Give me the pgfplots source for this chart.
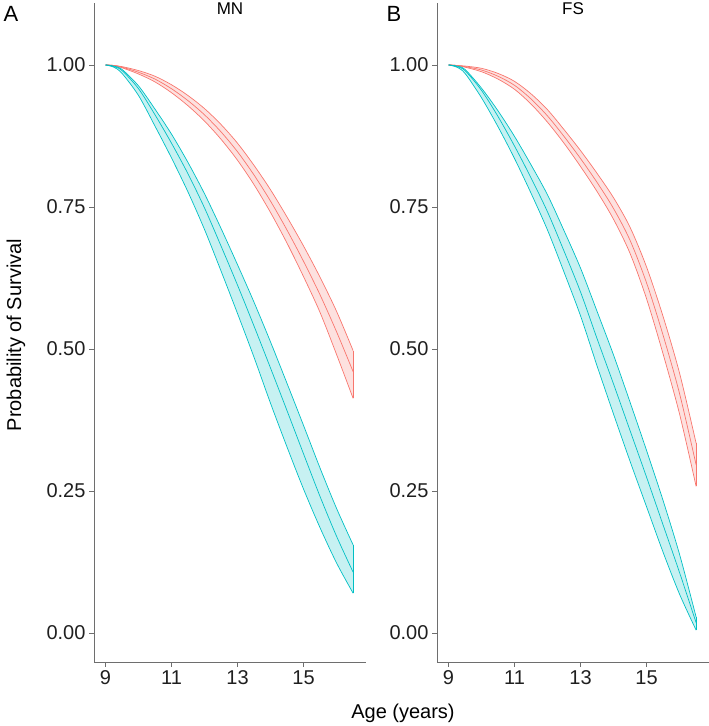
\documentclass[border=0pt]{standalone}
\usepackage{pgfplots}
\usepackage{pgfplotstable}
\pgfplotsset{compat=1.18}
\usepgfplotslibrary{fillbetween}
\usepackage{fontspec}
\setmainfont{Liberation Sans}
\definecolor{rd}{HTML}{F8766D}
\definecolor{tl}{HTML}{00BFC4}
\definecolor{axgray}{HTML}{6E6E6E}

% Panel A (MN)
\pgfplotstableread{
x     rlo   rmid  rhi   tlo   tmid  thi
9     1     1     1     1     1     1
9.25  0.999 0.999 0.999 0.996 0.997 0.998
9.5   0.995 0.996 0.997 0.985 0.990 0.992
10    0.984 0.987 0.990 0.946 0.958 0.963
10.5  0.970 0.975 0.980 0.892 0.912 0.922
11    0.951 0.958 0.965 0.836 0.862 0.878
11.5  0.928 0.937 0.946 0.776 0.808 0.828
12    0.901 0.912 0.923 0.710 0.748 0.773
12.5  0.869 0.882 0.895 0.637 0.681 0.712
13    0.832 0.847 0.862 0.562 0.612 0.648
13.5  0.789 0.806 0.823 0.485 0.540 0.582
14    0.740 0.760 0.780 0.404 0.466 0.512
14.5  0.686 0.709 0.732 0.327 0.391 0.439
15    0.627 0.654 0.681 0.253 0.315 0.365
15.5  0.564 0.595 0.626 0.185 0.240 0.290
16    0.490 0.530 0.566 0.123 0.170 0.219
16.5  0.413 0.460 0.497 0.070 0.107 0.155
}\dataA

% Panel B (FS)
\pgfplotstableread{
x     rlo   rmid  rhi   tlo   tmid  thi
9     1     1     1     1     1     1
9.25  0.999 0.999 0.999 0.996 0.997 0.998
9.5   0.996 0.997 0.998 0.985 0.990 0.992
10    0.988 0.991 0.994 0.942 0.955 0.959
10.5  0.975 0.980 0.985 0.891 0.909 0.919
11    0.957 0.964 0.971 0.835 0.857 0.874
11.5  0.931 0.940 0.949 0.774 0.801 0.824
12    0.899 0.910 0.921 0.709 0.741 0.771
12.5  0.862 0.874 0.886 0.635 0.672 0.708
13    0.821 0.835 0.849 0.558 0.600 0.642
13.5  0.777 0.793 0.809 0.470 0.518 0.566
14    0.728 0.747 0.766 0.385 0.438 0.489
14.5  0.668 0.691 0.714 0.302 0.356 0.406
15    0.588 0.616 0.644 0.222 0.274 0.321
15.5  0.491 0.524 0.557 0.142 0.190 0.233
16    0.385 0.421 0.457 0.068 0.106 0.138
16.5  0.258 0.296 0.334 0.005 0.018 0.028
}\dataB

\pgfplotsset{
  panel/.style={
    scale only axis, width=272pt, height=659pt,
    xmin=8.65, xmax=16.89, ymin=-0.0511, ymax=1.109,
    axis x line*=bottom, axis y line*=left,
    axis line style={axgray, line width=0.8pt},
    tick style={axgray, line width=0.8pt},
    tick align=outside, major tick length=5pt,
    xtick={9,11,13,15}, ytick={0,0.25,0.5,0.75,1},
    yticklabel style={/pgf/number format/fixed, /pgf/number format/fixed zerofill, /pgf/number format/precision=2},
    /pgf/number format/assume math mode=true,
    tick label style={font=\fontsize{20}{24}\selectfont, text=black!88},
  },
  bandline/.style={line width=0.7pt, smooth},
}

\begin{document}
\begin{tikzpicture}

\begin{axis}[panel, at={(94pt,64pt)}, anchor=south west]
  \addplot[bandline, rd, name path=rAhi] table[x=x, y=rhi] {\dataA};
  \addplot[bandline, rd, name path=rAlo] table[x=x, y=rlo] {\dataA};
  \addplot[fill=rd, fill opacity=0.22, draw=none] fill between[of=rAhi and rAlo];
  \addplot[bandline, rd] table[x=x, y=rmid] {\dataA};
  \addplot[line width=0.7pt, rd] coordinates {(16.5,0.413) (16.5,0.497)};
  \addplot[bandline, tl, name path=tAhi] table[x=x, y=thi] {\dataA};
  \addplot[bandline, tl, name path=tAlo] table[x=x, y=tlo] {\dataA};
  \addplot[fill=tl, fill opacity=0.22, draw=none] fill between[of=tAhi and tAlo];
  \addplot[bandline, tl] table[x=x, y=tmid] {\dataA};
  \addplot[line width=0.7pt, tl] coordinates {(16.5,0.070) (16.5,0.155)};
\end{axis}

\begin{axis}[panel, at={(437pt,64pt)}, anchor=south west]
  \addplot[bandline, rd, name path=rBhi] table[x=x, y=rhi] {\dataB};
  \addplot[bandline, rd, name path=rBlo] table[x=x, y=rlo] {\dataB};
  \addplot[fill=rd, fill opacity=0.22, draw=none] fill between[of=rBhi and rBlo];
  \addplot[bandline, rd] table[x=x, y=rmid] {\dataB};
  \addplot[line width=0.7pt, rd] coordinates {(16.5,0.258) (16.5,0.334)};
  \addplot[bandline, tl, name path=tBhi] table[x=x, y=thi] {\dataB};
  \addplot[bandline, tl, name path=tBlo] table[x=x, y=tlo] {\dataB};
  \addplot[fill=tl, fill opacity=0.22, draw=none] fill between[of=tBhi and tBlo];
  \addplot[bandline, tl] table[x=x, y=tmid] {\dataB};
  \addplot[line width=0.7pt, tl] coordinates {(16.5,0.005) (16.5,0.028)};
\end{axis}

\node[anchor=west, font=\fontsize{22}{26}\selectfont] at (0pt,712pt) {A};
\node[anchor=west, font=\fontsize{22}{26}\selectfont] at (383pt,712pt) {B};
\node[font=\fontsize{17}{20}\selectfont] at (230pt,717pt) {MN};
\node[font=\fontsize{17}{20}\selectfont] at (573pt,717pt) {FS};
\node[rotate=90, font=\fontsize{20}{24}\selectfont] at (16pt,391pt) {Probability of Survival};
\node[font=\fontsize{20}{24}\selectfont] at (403pt,13pt) {Age (years)};
\pgfresetboundingbox
\useasboundingbox (0pt,0pt) rectangle (709pt,726pt);
\end{tikzpicture}
\end{document}
